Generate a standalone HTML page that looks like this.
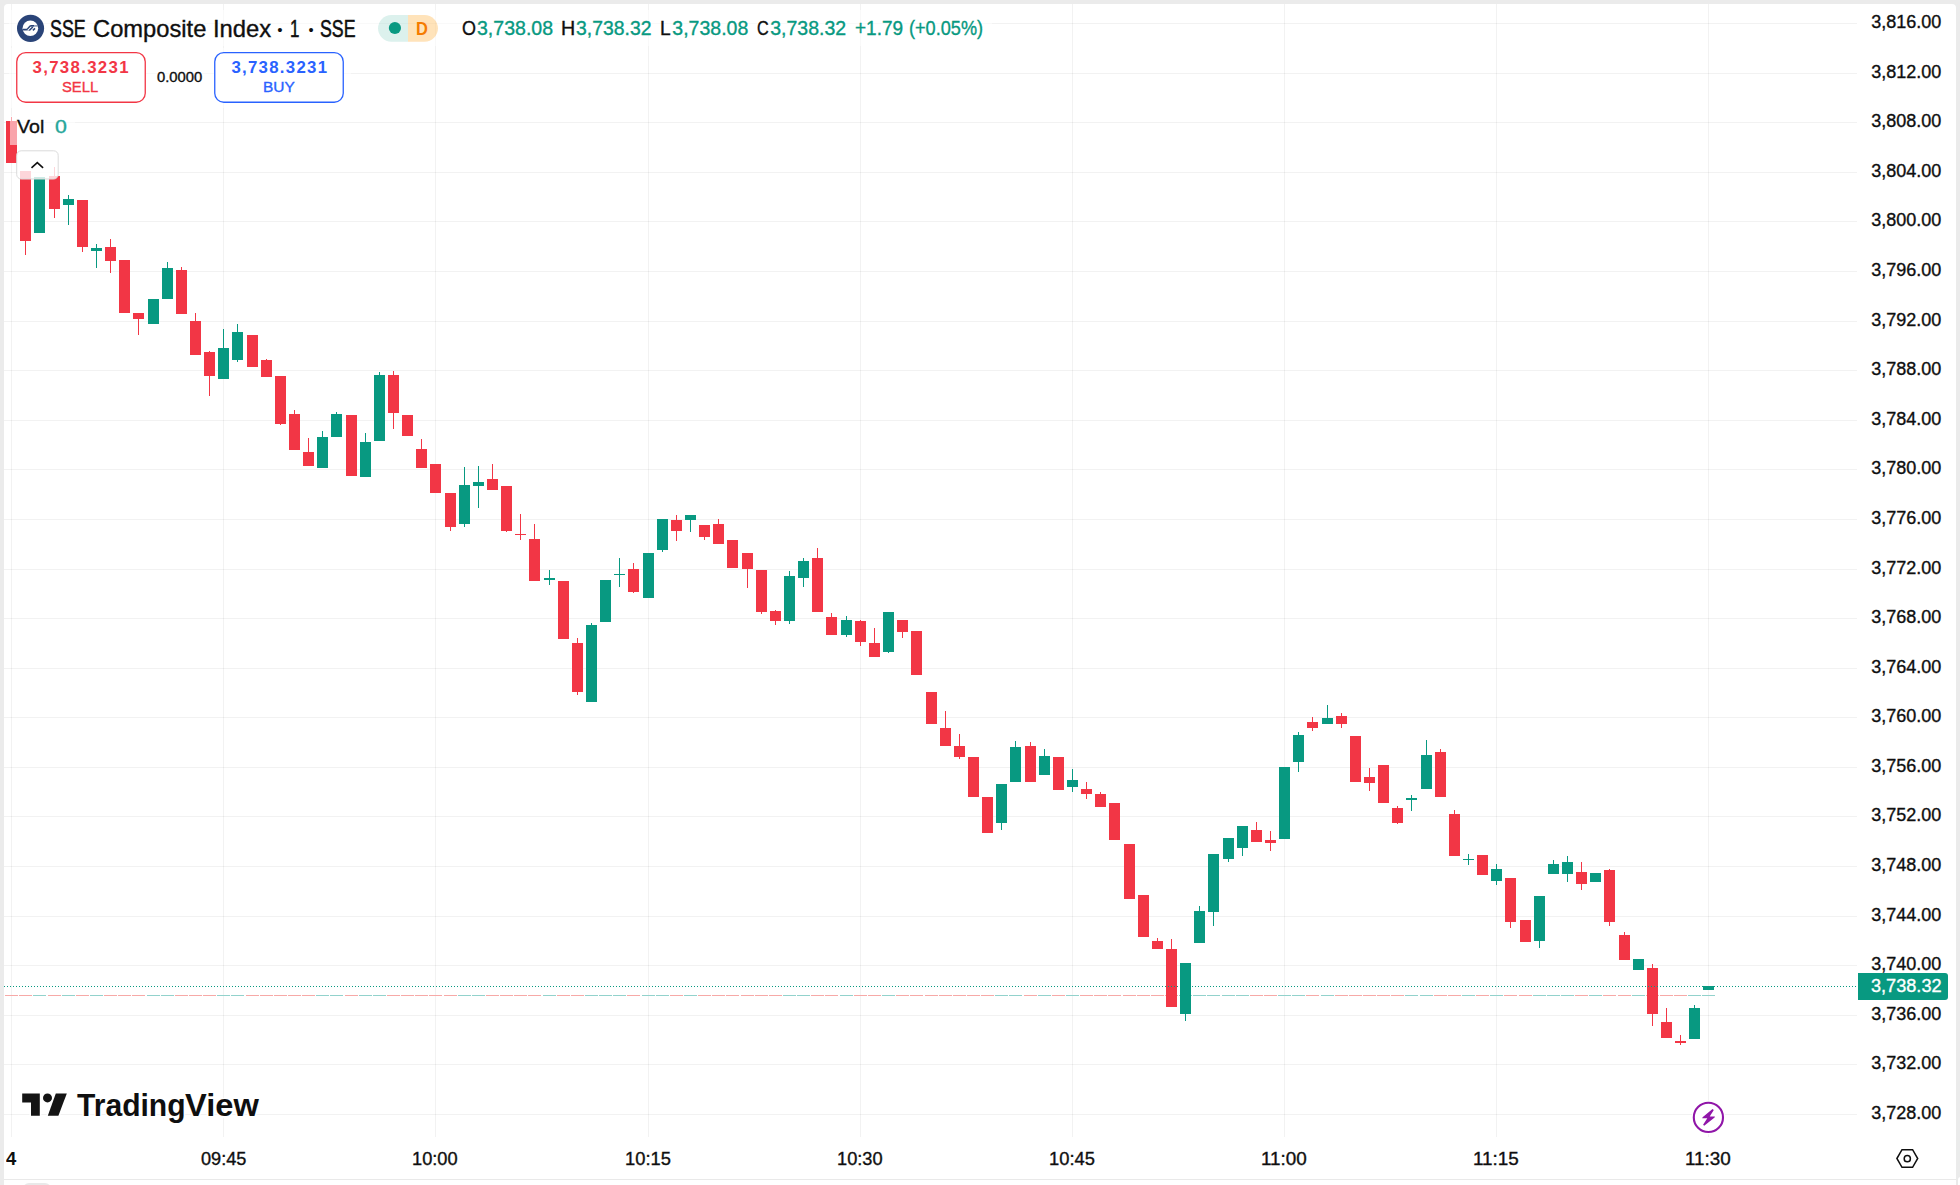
<!DOCTYPE html>
<html lang="en"><head><meta charset="utf-8"><title>SSE Composite Index chart</title>
<style>html,body{margin:0;padding:0}body{width:1960px;height:1185px;background:#ebebeb;position:relative;overflow:hidden;font-family:"Liberation Sans",sans-serif;color:#0f0f0f}
.panel{position:absolute;left:4px;top:4px;width:1952px;height:1181px;background:#fff;border-radius:4px 4px 0 0}
.sep{position:absolute;left:4px;top:1179px;width:1952px;height:1px;background:#e9e9e9}
.pill{position:absolute;left:23px;top:1183px;width:28px;height:12px;border-radius:6px;background:#e9e9e9}
.t{position:absolute;white-space:nowrap;line-height:1;transform-origin:0 0;display:block}
</style></head><body>
<div class="panel"></div><div class="sep"></div><div class="pill"></div>
<svg width="1960" height="1185" viewBox="0 0 1960 1185" style="position:absolute;left:0;top:0">
<g fill="#000" fill-opacity="0.052" shape-rendering="crispEdges">
<rect x="4" y="23" width="1853" height="1"/>
<rect x="4" y="73" width="1853" height="1"/>
<rect x="4" y="122" width="1853" height="1"/>
<rect x="4" y="172" width="1853" height="1"/>
<rect x="4" y="221" width="1853" height="1"/>
<rect x="4" y="271" width="1853" height="1"/>
<rect x="4" y="321" width="1853" height="1"/>
<rect x="4" y="370" width="1853" height="1"/>
<rect x="4" y="420" width="1853" height="1"/>
<rect x="4" y="469" width="1853" height="1"/>
<rect x="4" y="519" width="1853" height="1"/>
<rect x="4" y="569" width="1853" height="1"/>
<rect x="4" y="618" width="1853" height="1"/>
<rect x="4" y="668" width="1853" height="1"/>
<rect x="4" y="717" width="1853" height="1"/>
<rect x="4" y="767" width="1853" height="1"/>
<rect x="4" y="816" width="1853" height="1"/>
<rect x="4" y="866" width="1853" height="1"/>
<rect x="4" y="916" width="1853" height="1"/>
<rect x="4" y="965" width="1853" height="1"/>
<rect x="4" y="1015" width="1853" height="1"/>
<rect x="4" y="1064" width="1853" height="1"/>
<rect x="4" y="1114" width="1853" height="1"/>
<rect x="11" y="4" width="1" height="1133"/>
<rect x="223" y="4" width="1" height="1133"/>
<rect x="435" y="4" width="1" height="1133"/>
<rect x="648" y="4" width="1" height="1133"/>
<rect x="860" y="4" width="1" height="1133"/>
<rect x="1072" y="4" width="1" height="1133"/>
<rect x="1284" y="4" width="1" height="1133"/>
<rect x="1496" y="4" width="1" height="1133"/>
<rect x="1708" y="4" width="1" height="1133"/>
</g>
<g shape-rendering="crispEdges">
<rect x="5" y="995" width="13" height="1" fill="#f7a9a7"/>
<rect x="19" y="995" width="13" height="1" fill="#f7a9a7"/>
<rect x="33" y="995" width="13" height="1" fill="#92d2cc"/>
<rect x="48" y="995" width="13" height="1" fill="#f7a9a7"/>
<rect x="62" y="995" width="13" height="1" fill="#92d2cc"/>
<rect x="76" y="995" width="13" height="1" fill="#f7a9a7"/>
<rect x="90" y="995" width="13" height="1" fill="#92d2cc"/>
<rect x="104" y="995" width="13" height="1" fill="#f7a9a7"/>
<rect x="118" y="995" width="13" height="1" fill="#f7a9a7"/>
<rect x="132" y="995" width="13" height="1" fill="#f7a9a7"/>
<rect x="147" y="995" width="13" height="1" fill="#92d2cc"/>
<rect x="161" y="995" width="13" height="1" fill="#92d2cc"/>
<rect x="175" y="995" width="13" height="1" fill="#f7a9a7"/>
<rect x="189" y="995" width="13" height="1" fill="#f7a9a7"/>
<rect x="203" y="995" width="13" height="1" fill="#f7a9a7"/>
<rect x="217" y="995" width="13" height="1" fill="#92d2cc"/>
<rect x="231" y="995" width="13" height="1" fill="#92d2cc"/>
<rect x="246" y="995" width="13" height="1" fill="#f7a9a7"/>
<rect x="260" y="995" width="13" height="1" fill="#f7a9a7"/>
<rect x="274" y="995" width="13" height="1" fill="#f7a9a7"/>
<rect x="288" y="995" width="13" height="1" fill="#f7a9a7"/>
<rect x="302" y="995" width="13" height="1" fill="#f7a9a7"/>
<rect x="316" y="995" width="13" height="1" fill="#92d2cc"/>
<rect x="330" y="995" width="13" height="1" fill="#92d2cc"/>
<rect x="345" y="995" width="13" height="1" fill="#f7a9a7"/>
<rect x="359" y="995" width="13" height="1" fill="#92d2cc"/>
<rect x="373" y="995" width="13" height="1" fill="#92d2cc"/>
<rect x="387" y="995" width="13" height="1" fill="#f7a9a7"/>
<rect x="401" y="995" width="13" height="1" fill="#f7a9a7"/>
<rect x="415" y="995" width="13" height="1" fill="#f7a9a7"/>
<rect x="429" y="995" width="13" height="1" fill="#f7a9a7"/>
<rect x="444" y="995" width="13" height="1" fill="#f7a9a7"/>
<rect x="458" y="995" width="13" height="1" fill="#92d2cc"/>
<rect x="472" y="995" width="13" height="1" fill="#92d2cc"/>
<rect x="486" y="995" width="13" height="1" fill="#f7a9a7"/>
<rect x="500" y="995" width="13" height="1" fill="#f7a9a7"/>
<rect x="514" y="995" width="13" height="1" fill="#f7a9a7"/>
<rect x="528" y="995" width="13" height="1" fill="#f7a9a7"/>
<rect x="543" y="995" width="13" height="1" fill="#92d2cc"/>
<rect x="557" y="995" width="13" height="1" fill="#f7a9a7"/>
<rect x="571" y="995" width="13" height="1" fill="#f7a9a7"/>
<rect x="585" y="995" width="13" height="1" fill="#92d2cc"/>
<rect x="599" y="995" width="13" height="1" fill="#92d2cc"/>
<rect x="613" y="995" width="13" height="1" fill="#92d2cc"/>
<rect x="627" y="995" width="13" height="1" fill="#f7a9a7"/>
<rect x="642" y="995" width="13" height="1" fill="#92d2cc"/>
<rect x="656" y="995" width="13" height="1" fill="#92d2cc"/>
<rect x="670" y="995" width="13" height="1" fill="#f7a9a7"/>
<rect x="684" y="995" width="13" height="1" fill="#92d2cc"/>
<rect x="698" y="995" width="13" height="1" fill="#f7a9a7"/>
<rect x="712" y="995" width="13" height="1" fill="#f7a9a7"/>
<rect x="726" y="995" width="13" height="1" fill="#f7a9a7"/>
<rect x="741" y="995" width="13" height="1" fill="#f7a9a7"/>
<rect x="755" y="995" width="13" height="1" fill="#f7a9a7"/>
<rect x="769" y="995" width="13" height="1" fill="#f7a9a7"/>
<rect x="783" y="995" width="13" height="1" fill="#92d2cc"/>
<rect x="797" y="995" width="13" height="1" fill="#92d2cc"/>
<rect x="811" y="995" width="13" height="1" fill="#f7a9a7"/>
<rect x="825" y="995" width="13" height="1" fill="#f7a9a7"/>
<rect x="840" y="995" width="13" height="1" fill="#92d2cc"/>
<rect x="854" y="995" width="13" height="1" fill="#f7a9a7"/>
<rect x="868" y="995" width="13" height="1" fill="#f7a9a7"/>
<rect x="882" y="995" width="13" height="1" fill="#92d2cc"/>
<rect x="896" y="995" width="13" height="1" fill="#f7a9a7"/>
<rect x="910" y="995" width="13" height="1" fill="#f7a9a7"/>
<rect x="925" y="995" width="13" height="1" fill="#f7a9a7"/>
<rect x="939" y="995" width="13" height="1" fill="#f7a9a7"/>
<rect x="953" y="995" width="13" height="1" fill="#f7a9a7"/>
<rect x="967" y="995" width="13" height="1" fill="#f7a9a7"/>
<rect x="981" y="995" width="13" height="1" fill="#f7a9a7"/>
<rect x="995" y="995" width="13" height="1" fill="#92d2cc"/>
<rect x="1009" y="995" width="13" height="1" fill="#92d2cc"/>
<rect x="1024" y="995" width="13" height="1" fill="#f7a9a7"/>
<rect x="1038" y="995" width="13" height="1" fill="#92d2cc"/>
<rect x="1052" y="995" width="13" height="1" fill="#f7a9a7"/>
<rect x="1066" y="995" width="13" height="1" fill="#92d2cc"/>
<rect x="1080" y="995" width="13" height="1" fill="#f7a9a7"/>
<rect x="1094" y="995" width="13" height="1" fill="#f7a9a7"/>
<rect x="1108" y="995" width="13" height="1" fill="#f7a9a7"/>
<rect x="1123" y="995" width="13" height="1" fill="#f7a9a7"/>
<rect x="1137" y="995" width="13" height="1" fill="#f7a9a7"/>
<rect x="1151" y="995" width="13" height="1" fill="#f7a9a7"/>
<rect x="1165" y="995" width="13" height="1" fill="#f7a9a7"/>
<rect x="1179" y="995" width="13" height="1" fill="#92d2cc"/>
<rect x="1193" y="995" width="13" height="1" fill="#92d2cc"/>
<rect x="1207" y="995" width="13" height="1" fill="#92d2cc"/>
<rect x="1222" y="995" width="13" height="1" fill="#92d2cc"/>
<rect x="1236" y="995" width="13" height="1" fill="#92d2cc"/>
<rect x="1250" y="995" width="13" height="1" fill="#f7a9a7"/>
<rect x="1264" y="995" width="13" height="1" fill="#f7a9a7"/>
<rect x="1278" y="995" width="13" height="1" fill="#92d2cc"/>
<rect x="1292" y="995" width="13" height="1" fill="#92d2cc"/>
<rect x="1306" y="995" width="13" height="1" fill="#f7a9a7"/>
<rect x="1321" y="995" width="13" height="1" fill="#92d2cc"/>
<rect x="1335" y="995" width="13" height="1" fill="#f7a9a7"/>
<rect x="1349" y="995" width="13" height="1" fill="#f7a9a7"/>
<rect x="1363" y="995" width="13" height="1" fill="#f7a9a7"/>
<rect x="1377" y="995" width="13" height="1" fill="#f7a9a7"/>
<rect x="1391" y="995" width="13" height="1" fill="#f7a9a7"/>
<rect x="1405" y="995" width="13" height="1" fill="#92d2cc"/>
<rect x="1420" y="995" width="13" height="1" fill="#92d2cc"/>
<rect x="1434" y="995" width="13" height="1" fill="#f7a9a7"/>
<rect x="1448" y="995" width="13" height="1" fill="#f7a9a7"/>
<rect x="1462" y="995" width="13" height="1" fill="#92d2cc"/>
<rect x="1476" y="995" width="13" height="1" fill="#f7a9a7"/>
<rect x="1490" y="995" width="13" height="1" fill="#92d2cc"/>
<rect x="1504" y="995" width="13" height="1" fill="#f7a9a7"/>
<rect x="1519" y="995" width="13" height="1" fill="#f7a9a7"/>
<rect x="1533" y="995" width="13" height="1" fill="#92d2cc"/>
<rect x="1547" y="995" width="13" height="1" fill="#92d2cc"/>
<rect x="1561" y="995" width="13" height="1" fill="#92d2cc"/>
<rect x="1575" y="995" width="13" height="1" fill="#f7a9a7"/>
<rect x="1589" y="995" width="13" height="1" fill="#92d2cc"/>
<rect x="1603" y="995" width="13" height="1" fill="#f7a9a7"/>
<rect x="1618" y="995" width="13" height="1" fill="#f7a9a7"/>
<rect x="1632" y="995" width="13" height="1" fill="#92d2cc"/>
<rect x="1646" y="995" width="13" height="1" fill="#f7a9a7"/>
<rect x="1660" y="995" width="13" height="1" fill="#f7a9a7"/>
<rect x="1674" y="995" width="13" height="1" fill="#f7a9a7"/>
<rect x="1688" y="995" width="13" height="1" fill="#92d2cc"/>
<rect x="1702" y="995" width="13" height="1" fill="#92d2cc"/>
</g>
<g fill="#f23645" shape-rendering="crispEdges">
<rect x="11" y="117" width="1" height="46"/>
<rect x="6" y="121" width="11" height="42"/>
<rect x="25" y="171" width="1" height="84"/>
<rect x="20" y="171" width="11" height="70"/>
<rect x="54" y="167" width="1" height="51"/>
<rect x="49" y="176" width="11" height="33"/>
<rect x="82" y="200" width="1" height="52"/>
<rect x="77" y="200" width="11" height="47"/>
<rect x="110" y="239" width="1" height="34"/>
<rect x="105" y="247" width="11" height="14"/>
<rect x="119" y="260" width="11" height="53"/>
<rect x="138" y="313" width="1" height="22"/>
<rect x="133" y="313" width="11" height="6"/>
<rect x="181" y="267" width="1" height="47"/>
<rect x="176" y="270" width="11" height="44"/>
<rect x="195" y="313" width="1" height="42"/>
<rect x="190" y="321" width="11" height="34"/>
<rect x="209" y="351" width="1" height="45"/>
<rect x="204" y="352" width="11" height="24"/>
<rect x="247" y="335" width="11" height="32"/>
<rect x="266" y="359" width="1" height="18"/>
<rect x="261" y="360" width="11" height="17"/>
<rect x="280" y="376" width="1" height="49"/>
<rect x="275" y="376" width="11" height="48"/>
<rect x="294" y="410" width="1" height="40"/>
<rect x="289" y="414" width="11" height="36"/>
<rect x="308" y="438" width="1" height="28"/>
<rect x="303" y="452" width="11" height="14"/>
<rect x="346" y="415" width="11" height="61"/>
<rect x="393" y="371" width="1" height="58"/>
<rect x="388" y="375" width="11" height="38"/>
<rect x="402" y="415" width="11" height="21"/>
<rect x="421" y="439" width="1" height="29"/>
<rect x="416" y="449" width="11" height="19"/>
<rect x="430" y="464" width="11" height="29"/>
<rect x="450" y="493" width="1" height="38"/>
<rect x="445" y="493" width="11" height="34"/>
<rect x="492" y="464" width="1" height="26"/>
<rect x="487" y="479" width="11" height="11"/>
<rect x="506" y="486" width="1" height="46"/>
<rect x="501" y="486" width="11" height="45"/>
<rect x="520" y="514" width="1" height="26"/>
<rect x="515" y="534" width="11" height="1"/>
<rect x="534" y="524" width="1" height="57"/>
<rect x="529" y="539" width="11" height="42"/>
<rect x="558" y="581" width="11" height="58"/>
<rect x="577" y="638" width="1" height="57"/>
<rect x="572" y="643" width="11" height="49"/>
<rect x="633" y="563" width="1" height="30"/>
<rect x="628" y="569" width="11" height="23"/>
<rect x="676" y="515" width="1" height="26"/>
<rect x="671" y="520" width="11" height="11"/>
<rect x="704" y="525" width="1" height="15"/>
<rect x="699" y="525" width="11" height="12"/>
<rect x="718" y="519" width="1" height="25"/>
<rect x="713" y="524" width="11" height="20"/>
<rect x="727" y="540" width="11" height="28"/>
<rect x="747" y="553" width="1" height="35"/>
<rect x="742" y="553" width="11" height="16"/>
<rect x="761" y="570" width="1" height="44"/>
<rect x="756" y="570" width="11" height="42"/>
<rect x="775" y="610" width="1" height="15"/>
<rect x="770" y="611" width="11" height="10"/>
<rect x="817" y="548" width="1" height="64"/>
<rect x="812" y="558" width="11" height="54"/>
<rect x="831" y="613" width="1" height="22"/>
<rect x="826" y="617" width="11" height="18"/>
<rect x="860" y="620" width="1" height="26"/>
<rect x="855" y="621" width="11" height="21"/>
<rect x="874" y="628" width="1" height="29"/>
<rect x="869" y="643" width="11" height="14"/>
<rect x="902" y="620" width="1" height="18"/>
<rect x="897" y="620" width="11" height="12"/>
<rect x="911" y="631" width="11" height="44"/>
<rect x="926" y="692" width="11" height="32"/>
<rect x="945" y="711" width="1" height="35"/>
<rect x="940" y="728" width="11" height="18"/>
<rect x="959" y="734" width="1" height="25"/>
<rect x="954" y="746" width="11" height="11"/>
<rect x="968" y="757" width="11" height="40"/>
<rect x="982" y="797" width="11" height="36"/>
<rect x="1030" y="742" width="1" height="40"/>
<rect x="1025" y="746" width="11" height="36"/>
<rect x="1053" y="757" width="11" height="33"/>
<rect x="1086" y="782" width="1" height="17"/>
<rect x="1081" y="789" width="11" height="5"/>
<rect x="1100" y="792" width="1" height="15"/>
<rect x="1095" y="794" width="11" height="13"/>
<rect x="1109" y="803" width="11" height="37"/>
<rect x="1124" y="844" width="11" height="55"/>
<rect x="1138" y="895" width="11" height="42"/>
<rect x="1157" y="938" width="1" height="11"/>
<rect x="1152" y="941" width="11" height="8"/>
<rect x="1171" y="939" width="1" height="68"/>
<rect x="1166" y="949" width="11" height="58"/>
<rect x="1256" y="822" width="1" height="20"/>
<rect x="1251" y="830" width="11" height="12"/>
<rect x="1270" y="831" width="1" height="20"/>
<rect x="1265" y="840" width="11" height="3"/>
<rect x="1312" y="717" width="1" height="14"/>
<rect x="1307" y="722" width="11" height="6"/>
<rect x="1341" y="713" width="1" height="15"/>
<rect x="1336" y="716" width="11" height="8"/>
<rect x="1350" y="736" width="11" height="46"/>
<rect x="1369" y="768" width="1" height="23"/>
<rect x="1364" y="777" width="11" height="6"/>
<rect x="1378" y="765" width="11" height="38"/>
<rect x="1397" y="806" width="1" height="18"/>
<rect x="1392" y="808" width="11" height="15"/>
<rect x="1440" y="749" width="1" height="48"/>
<rect x="1435" y="752" width="11" height="45"/>
<rect x="1454" y="810" width="1" height="46"/>
<rect x="1449" y="814" width="11" height="42"/>
<rect x="1477" y="855" width="11" height="20"/>
<rect x="1510" y="878" width="1" height="50"/>
<rect x="1505" y="878" width="11" height="44"/>
<rect x="1520" y="920" width="11" height="22"/>
<rect x="1581" y="862" width="1" height="28"/>
<rect x="1576" y="872" width="11" height="12"/>
<rect x="1609" y="869" width="1" height="57"/>
<rect x="1604" y="870" width="11" height="52"/>
<rect x="1624" y="932" width="1" height="28"/>
<rect x="1619" y="935" width="11" height="25"/>
<rect x="1652" y="964" width="1" height="62"/>
<rect x="1647" y="968" width="11" height="46"/>
<rect x="1666" y="1008" width="1" height="30"/>
<rect x="1661" y="1022" width="11" height="16"/>
<rect x="1680" y="1035" width="1" height="10"/>
<rect x="1675" y="1041" width="11" height="2"/>
</g>
<g fill="#089981" shape-rendering="crispEdges">
<rect x="34" y="177" width="11" height="56"/>
<rect x="68" y="195" width="1" height="30"/>
<rect x="63" y="199" width="11" height="6"/>
<rect x="96" y="244" width="1" height="24"/>
<rect x="91" y="248" width="11" height="3"/>
<rect x="148" y="299" width="11" height="25"/>
<rect x="167" y="262" width="1" height="37"/>
<rect x="162" y="268" width="11" height="31"/>
<rect x="223" y="329" width="1" height="50"/>
<rect x="218" y="348" width="11" height="31"/>
<rect x="237" y="324" width="1" height="38"/>
<rect x="232" y="332" width="11" height="28"/>
<rect x="322" y="431" width="1" height="37"/>
<rect x="317" y="437" width="11" height="31"/>
<rect x="336" y="412" width="1" height="25"/>
<rect x="331" y="414" width="11" height="23"/>
<rect x="365" y="433" width="1" height="44"/>
<rect x="360" y="442" width="11" height="35"/>
<rect x="379" y="372" width="1" height="69"/>
<rect x="374" y="375" width="11" height="66"/>
<rect x="464" y="467" width="1" height="60"/>
<rect x="459" y="485" width="11" height="39"/>
<rect x="478" y="466" width="1" height="42"/>
<rect x="473" y="482" width="11" height="4"/>
<rect x="549" y="570" width="1" height="15"/>
<rect x="544" y="578" width="11" height="2"/>
<rect x="591" y="623" width="1" height="79"/>
<rect x="586" y="625" width="11" height="77"/>
<rect x="600" y="580" width="11" height="42"/>
<rect x="619" y="558" width="1" height="29"/>
<rect x="614" y="574" width="11" height="1"/>
<rect x="643" y="553" width="11" height="45"/>
<rect x="662" y="519" width="1" height="33"/>
<rect x="657" y="519" width="11" height="31"/>
<rect x="690" y="515" width="1" height="17"/>
<rect x="685" y="515" width="11" height="5"/>
<rect x="789" y="571" width="1" height="53"/>
<rect x="784" y="576" width="11" height="45"/>
<rect x="803" y="558" width="1" height="29"/>
<rect x="798" y="561" width="11" height="17"/>
<rect x="846" y="616" width="1" height="21"/>
<rect x="841" y="620" width="11" height="15"/>
<rect x="888" y="612" width="1" height="41"/>
<rect x="883" y="612" width="11" height="40"/>
<rect x="1001" y="784" width="1" height="46"/>
<rect x="996" y="784" width="11" height="39"/>
<rect x="1015" y="741" width="1" height="41"/>
<rect x="1010" y="747" width="11" height="35"/>
<rect x="1044" y="749" width="1" height="26"/>
<rect x="1039" y="756" width="11" height="19"/>
<rect x="1072" y="769" width="1" height="23"/>
<rect x="1067" y="780" width="11" height="7"/>
<rect x="1185" y="963" width="1" height="58"/>
<rect x="1180" y="963" width="11" height="51"/>
<rect x="1199" y="906" width="1" height="37"/>
<rect x="1194" y="911" width="11" height="32"/>
<rect x="1213" y="854" width="1" height="72"/>
<rect x="1208" y="854" width="11" height="58"/>
<rect x="1228" y="838" width="1" height="24"/>
<rect x="1223" y="838" width="11" height="21"/>
<rect x="1242" y="826" width="1" height="30"/>
<rect x="1237" y="826" width="11" height="22"/>
<rect x="1279" y="767" width="11" height="72"/>
<rect x="1298" y="732" width="1" height="40"/>
<rect x="1293" y="735" width="11" height="27"/>
<rect x="1327" y="705" width="1" height="19"/>
<rect x="1322" y="718" width="11" height="6"/>
<rect x="1411" y="795" width="1" height="16"/>
<rect x="1406" y="798" width="11" height="2"/>
<rect x="1426" y="740" width="1" height="49"/>
<rect x="1421" y="755" width="11" height="34"/>
<rect x="1468" y="854" width="1" height="11"/>
<rect x="1463" y="859" width="11" height="1"/>
<rect x="1496" y="864" width="1" height="21"/>
<rect x="1491" y="869" width="11" height="12"/>
<rect x="1539" y="896" width="1" height="52"/>
<rect x="1534" y="896" width="11" height="45"/>
<rect x="1553" y="860" width="1" height="14"/>
<rect x="1548" y="864" width="11" height="10"/>
<rect x="1567" y="856" width="1" height="26"/>
<rect x="1562" y="862" width="11" height="12"/>
<rect x="1590" y="873" width="11" height="9"/>
<rect x="1633" y="959" width="11" height="11"/>
<rect x="1694" y="1005" width="1" height="34"/>
<rect x="1689" y="1008" width="11" height="31"/>
<rect x="1703" y="986" width="11" height="4"/>
</g>
<line x1="4" y1="986.5" x2="1858" y2="986.5" stroke="#089981" stroke-width="1" stroke-dasharray="1 2" shape-rendering="crispEdges"/>
<path d="M1858 973H1945a3 3 0 0 1 3 3V997a3 3 0 0 1 -3 3H1858Z" fill="#089981"/>
<rect x="9" y="10" width="983" height="36" fill="#fff" fill-opacity="0.5"/><rect x="9" y="48" width="342" height="60" fill="#fff" fill-opacity="0.5"/>
<circle cx="1708.4" cy="1117.4" r="16.8" fill="#fff"/>
<circle cx="1708.4" cy="1117.4" r="14.6" fill="#fff" stroke="#9016a8" stroke-width="2.1"/>
<path d="M1712.5 1108.9L1713.8 1110.1L1709.7 1116.4H1714.9L1714.6 1117.5L1704.2 1125.8L1703.1 1124.7L1707.3 1118.2H1702.2L1702.6 1117.3Z" fill="#9016a8"/>
<path d="M1896.9 1158.5L1902 1149.7H1912.6L1917.7 1158.5L1912.6 1167.3H1902Z" fill="none" stroke="#0f0f0f" stroke-width="1.5" stroke-linejoin="miter"/>
<circle cx="1907.3" cy="1158.7" r="3.1" fill="none" stroke="#0f0f0f" stroke-width="1.5"/>
<g fill="#141414" stroke="#fff" stroke-width="3" paint-order="stroke" stroke-linejoin="round"><path d="M22.2 1093.5H39.8V1115.8H31V1102.6H22.2Z"/><circle cx="47.5" cy="1097.9" r="4.5"/><path d="M55.8 1093.5H66.8L58.4 1115.8H47.8Z"/></g>
<circle cx="30.55" cy="28.35" r="13.55" fill="#2a4478"/><circle cx="30.35" cy="28.3" r="7.8" fill="#fff"/>
<g fill="none" stroke="#2a4478"><path d="M22.8 29.5H26.4C28 29.5 29.2 25.8 31 25.8H34" stroke-width="1.4"/><path d="M29.3 30.5L32.8 27" stroke-width="1.5"/><path d="M32.9 30.4L35 28.4" stroke-width="1.5"/></g>
<rect x="31" y="25.1" width="6.6" height="1.6" fill="#2a4478" fill-opacity="0.55"/><rect x="23.2" y="30" width="6" height="1" fill="#2a4478" fill-opacity="0.35"/>
<path d="M391.4 15H408V41.7H391.4A13.35 13.35 0 0 1 391.4 15Z" fill="#089981" fill-opacity="0.14"/>
<path d="M408 15H424.6A13.35 13.35 0 0 1 424.6 41.7H408Z" fill="#ff9800" fill-opacity="0.27"/>
<circle cx="394.9" cy="28" r="6.1" fill="#089981"/>
<rect x="16.75" y="52.65" width="128.5" height="49.6" rx="9" fill="#fff" stroke="#f23645" stroke-width="1.3"/>
<rect x="214.75" y="52.65" width="128.5" height="49.6" rx="9" fill="#fff" stroke="#2962ff" stroke-width="1.3"/>
<rect x="10" y="116" width="65" height="29" fill="#fff" fill-opacity="0.55"/>
<rect x="16.7" y="150.8" width="41.5" height="28.2" rx="4.5" fill="#fff" fill-opacity="0.8" stroke="#dbdbdb" stroke-width="1"/>
<path d="M31.5 167.8L37.3 162.6L43.1 167.8" fill="none" stroke="#0f0f0f" stroke-width="1.6"/>
<path d="M1960 1177H1960V1185H1958V1180A3 3 0 0 1 1960 1177Z" fill="#fff"/>
</svg>
<span class="t" id="t1" style="left:49.87px;top:17px;font-size:24px;font-weight:400;color:#0f0f0f;transform:scaleX(0.7432);-webkit-text-stroke:0.55px;">SSE</span>
<span class="t" id="t2" style="left:92.86px;top:17px;font-size:24px;font-weight:400;color:#0f0f0f;transform:scaleX(0.9884);-webkit-text-stroke:0.35px;">Composite</span>
<span class="t" id="t3" style="left:212.97px;top:17px;font-size:24px;font-weight:400;color:#0f0f0f;transform:scaleX(0.9911);-webkit-text-stroke:0.35px;">Index</span>
<span class="t" id="dot1" style="left:275.75px;top:17px;font-size:25px;font-weight:700;color:#0f0f0f;font-family:'Liberation Serif',serif;">·</span>
<span class="t" id="t4" style="left:289.77px;top:17px;font-size:24px;font-weight:400;color:#0f0f0f;transform:scaleX(0.7048);-webkit-text-stroke:0.55px;">1</span>
<span class="t" id="dot2" style="left:306.61px;top:17px;font-size:25px;font-weight:700;color:#0f0f0f;transform:scaleX(0.9750);font-family:'Liberation Serif',serif;">·</span>
<span class="t" id="t5" style="left:320.08px;top:17px;font-size:24px;font-weight:400;color:#0f0f0f;transform:scaleX(0.7388);-webkit-text-stroke:0.55px;">SSE</span>
<span class="t" id="o" style="left:461.98px;top:19px;font-size:19.5px;font-weight:400;color:#0f0f0f;transform:scaleX(0.9208);-webkit-text-stroke:0.35px;">O</span>
<span class="t" id="ov" style="left:477.15px;top:19px;font-size:19.5px;font-weight:400;color:#089981;transform:scaleX(1.0020);-webkit-text-stroke:0.35px;">3,738.08</span>
<span class="t" id="h" style="left:561.29px;top:19px;font-size:19.5px;font-weight:400;color:#0f0f0f;transform:scaleX(1.0091);-webkit-text-stroke:0.35px;">H</span>
<span class="t" id="hv" style="left:576.35px;top:19px;font-size:19.5px;font-weight:400;color:#089981;transform:scaleX(0.9939);-webkit-text-stroke:0.35px;">3,738.32</span>
<span class="t" id="l" style="left:660.13px;top:19px;font-size:19.5px;font-weight:400;color:#0f0f0f;transform:scaleX(0.9829);-webkit-text-stroke:0.35px;">L</span>
<span class="t" id="lv" style="left:672.35px;top:19px;font-size:19.5px;font-weight:400;color:#089981;-webkit-text-stroke:0.35px;">3,738.08</span>
<span class="t" id="c" style="left:756.77px;top:19px;font-size:19.5px;font-weight:400;color:#0f0f0f;transform:scaleX(0.8327);-webkit-text-stroke:0.35px;">C</span>
<span class="t" id="cv" style="left:770.25px;top:19px;font-size:19.5px;font-weight:400;color:#089981;-webkit-text-stroke:0.35px;">3,738.32</span>
<span class="t" id="chg" style="left:854.62px;top:19px;font-size:19.5px;font-weight:400;color:#089981;transform:scaleX(0.9768);-webkit-text-stroke:0.35px;">+1.79</span>
<span class="t" id="pct" style="left:908.64px;top:19px;font-size:19.5px;font-weight:400;color:#089981;transform:scaleX(0.9294);-webkit-text-stroke:0.35px;">(+0.05%)</span>
<span class="t" id="d" style="left:415.79px;top:20px;font-size:18.5px;font-weight:700;color:#f57c00;transform:scaleX(0.8889);">D</span>
<span class="t" id="sellp" style="left:32.50px;top:60px;font-size:16.8px;font-weight:700;color:#f23645;letter-spacing:1.333px;">3,738.3231</span>
<span class="t" id="sell" style="left:62.27px;top:79px;font-size:15.2px;font-weight:400;color:#f23645;transform:scaleX(0.9722);-webkit-text-stroke:0.35px;">SELL</span>
<span class="t" id="spread" style="left:157.24px;top:70px;font-size:14.5px;font-weight:400;color:#0f0f0f;transform:scaleX(1.0208);-webkit-text-stroke:0.35px;">0.0000</span>
<span class="t" id="buyp" style="left:231.40px;top:60px;font-size:16.8px;font-weight:700;color:#2962ff;letter-spacing:1.289px;">3,738.3231</span>
<span class="t" id="buy" style="left:262.73px;top:79px;font-size:15.2px;font-weight:400;color:#2962ff;transform:scaleX(1.0169);-webkit-text-stroke:0.35px;">BUY</span>
<span class="t" id="vol" style="left:17.14px;top:117px;font-size:19px;font-weight:400;color:#0f0f0f;transform:scaleX(1.0320);-webkit-text-stroke:0.35px;">Vol</span>
<span class="t" id="volv" style="left:54.86px;top:117px;font-size:19px;font-weight:400;color:#26a69a;transform:scaleX(1.1222);-webkit-text-stroke:0.35px;">0</span>
<span class="t" id="tv" style="left:77.15px;top:1090px;font-size:30.6px;font-weight:700;color:#0f0f0f;transform:scaleX(0.9829);text-shadow:1.5px 0 #fff,-1.5px 0 #fff,0 1.5px #fff,0 -1.5px #fff,1.1px 1.1px #fff,-1.1px 1.1px #fff,1.1px -1.1px #fff,-1.1px -1.1px #fff;">Trading</span>
<span class="t" id="tv2" style="left:184.83px;top:1090px;font-size:30.6px;font-weight:700;color:#0f0f0f;transform:scaleX(1.0667);text-shadow:1.5px 0 #fff,-1.5px 0 #fff,0 1.5px #fff,0 -1.5px #fff,1.1px 1.1px #fff,-1.1px 1.1px #fff,1.1px -1.1px #fff,-1.1px -1.1px #fff;">View</span>
<span class="t" id="day" style="left:5.74px;top:1150px;font-size:18px;font-weight:700;color:#0f0f0f;transform:scaleX(1.0256);">4</span>
<span class="t" id="last" style="left:1870.84px;top:977px;font-size:18px;font-weight:400;color:#ffffff;transform:scaleX(1.0073);-webkit-text-stroke:0.35px;">3,738.32</span>
<span class="t" id="time0" style="left:200.84px;top:1150px;font-size:18px;font-weight:400;color:#0f0f0f;transform:scaleX(1.0069);-webkit-text-stroke:0.35px;">09:45</span>
<span class="t" id="time1" style="left:412.33px;top:1150px;font-size:18px;font-weight:400;color:#0f0f0f;transform:scaleX(1.0127);-webkit-text-stroke:0.35px;">10:00</span>
<span class="t" id="time2" style="left:625.33px;top:1150px;font-size:18px;font-weight:400;color:#0f0f0f;transform:scaleX(1.0186);-webkit-text-stroke:0.35px;">10:15</span>
<span class="t" id="time3" style="left:837.33px;top:1150px;font-size:18px;font-weight:400;color:#0f0f0f;transform:scaleX(1.0127);-webkit-text-stroke:0.35px;">10:30</span>
<span class="t" id="time4" style="left:1049.33px;top:1150px;font-size:18px;font-weight:400;color:#0f0f0f;transform:scaleX(1.0186);-webkit-text-stroke:0.35px;">10:45</span>
<span class="t" id="time5" style="left:1261.29px;top:1150px;font-size:18px;font-weight:400;color:#0f0f0f;transform:scaleX(1.0491);-webkit-text-stroke:0.35px;">11:00</span>
<span class="t" id="time6" style="left:1473.29px;top:1150px;font-size:18px;font-weight:400;color:#0f0f0f;transform:scaleX(1.0491);-webkit-text-stroke:0.35px;">11:15</span>
<span class="t" id="time7" style="left:1685.29px;top:1150px;font-size:18px;font-weight:400;color:#0f0f0f;transform:scaleX(1.0491);-webkit-text-stroke:0.35px;">11:30</span>
<span class="t" id="p0" style="left:1871.15px;top:13px;font-size:18px;font-weight:400;color:#0f0f0f;-webkit-text-stroke:0.35px;">3,816.00</span>
<span class="t" id="p1" style="left:1871.15px;top:63px;font-size:18px;font-weight:400;color:#0f0f0f;-webkit-text-stroke:0.35px;">3,812.00</span>
<span class="t" id="p2" style="left:1871.15px;top:112px;font-size:18px;font-weight:400;color:#0f0f0f;-webkit-text-stroke:0.35px;">3,808.00</span>
<span class="t" id="p3" style="left:1871.15px;top:162px;font-size:18px;font-weight:400;color:#0f0f0f;-webkit-text-stroke:0.35px;">3,804.00</span>
<span class="t" id="p4" style="left:1871.15px;top:211px;font-size:18px;font-weight:400;color:#0f0f0f;-webkit-text-stroke:0.35px;">3,800.00</span>
<span class="t" id="p5" style="left:1871.15px;top:261px;font-size:18px;font-weight:400;color:#0f0f0f;-webkit-text-stroke:0.35px;">3,796.00</span>
<span class="t" id="p6" style="left:1871.15px;top:311px;font-size:18px;font-weight:400;color:#0f0f0f;-webkit-text-stroke:0.35px;">3,792.00</span>
<span class="t" id="p7" style="left:1871.15px;top:360px;font-size:18px;font-weight:400;color:#0f0f0f;-webkit-text-stroke:0.35px;">3,788.00</span>
<span class="t" id="p8" style="left:1871.15px;top:410px;font-size:18px;font-weight:400;color:#0f0f0f;-webkit-text-stroke:0.35px;">3,784.00</span>
<span class="t" id="p9" style="left:1871.15px;top:459px;font-size:18px;font-weight:400;color:#0f0f0f;-webkit-text-stroke:0.35px;">3,780.00</span>
<span class="t" id="p10" style="left:1871.15px;top:509px;font-size:18px;font-weight:400;color:#0f0f0f;-webkit-text-stroke:0.35px;">3,776.00</span>
<span class="t" id="p11" style="left:1871.15px;top:559px;font-size:18px;font-weight:400;color:#0f0f0f;-webkit-text-stroke:0.35px;">3,772.00</span>
<span class="t" id="p12" style="left:1871.15px;top:608px;font-size:18px;font-weight:400;color:#0f0f0f;-webkit-text-stroke:0.35px;">3,768.00</span>
<span class="t" id="p13" style="left:1871.15px;top:658px;font-size:18px;font-weight:400;color:#0f0f0f;-webkit-text-stroke:0.35px;">3,764.00</span>
<span class="t" id="p14" style="left:1871.15px;top:707px;font-size:18px;font-weight:400;color:#0f0f0f;-webkit-text-stroke:0.35px;">3,760.00</span>
<span class="t" id="p15" style="left:1871.15px;top:757px;font-size:18px;font-weight:400;color:#0f0f0f;-webkit-text-stroke:0.35px;">3,756.00</span>
<span class="t" id="p16" style="left:1871.15px;top:806px;font-size:18px;font-weight:400;color:#0f0f0f;-webkit-text-stroke:0.35px;">3,752.00</span>
<span class="t" id="p17" style="left:1871.15px;top:856px;font-size:18px;font-weight:400;color:#0f0f0f;-webkit-text-stroke:0.35px;">3,748.00</span>
<span class="t" id="p18" style="left:1871.15px;top:906px;font-size:18px;font-weight:400;color:#0f0f0f;-webkit-text-stroke:0.35px;">3,744.00</span>
<span class="t" id="p19" style="left:1871.15px;top:955px;font-size:18px;font-weight:400;color:#0f0f0f;-webkit-text-stroke:0.35px;">3,740.00</span>
<span class="t" id="p20" style="left:1871.15px;top:1005px;font-size:18px;font-weight:400;color:#0f0f0f;-webkit-text-stroke:0.35px;">3,736.00</span>
<span class="t" id="p21" style="left:1871.15px;top:1054px;font-size:18px;font-weight:400;color:#0f0f0f;-webkit-text-stroke:0.35px;">3,732.00</span>
<span class="t" id="p22" style="left:1871.15px;top:1104px;font-size:18px;font-weight:400;color:#0f0f0f;-webkit-text-stroke:0.35px;">3,728.00</span>
</body></html>
